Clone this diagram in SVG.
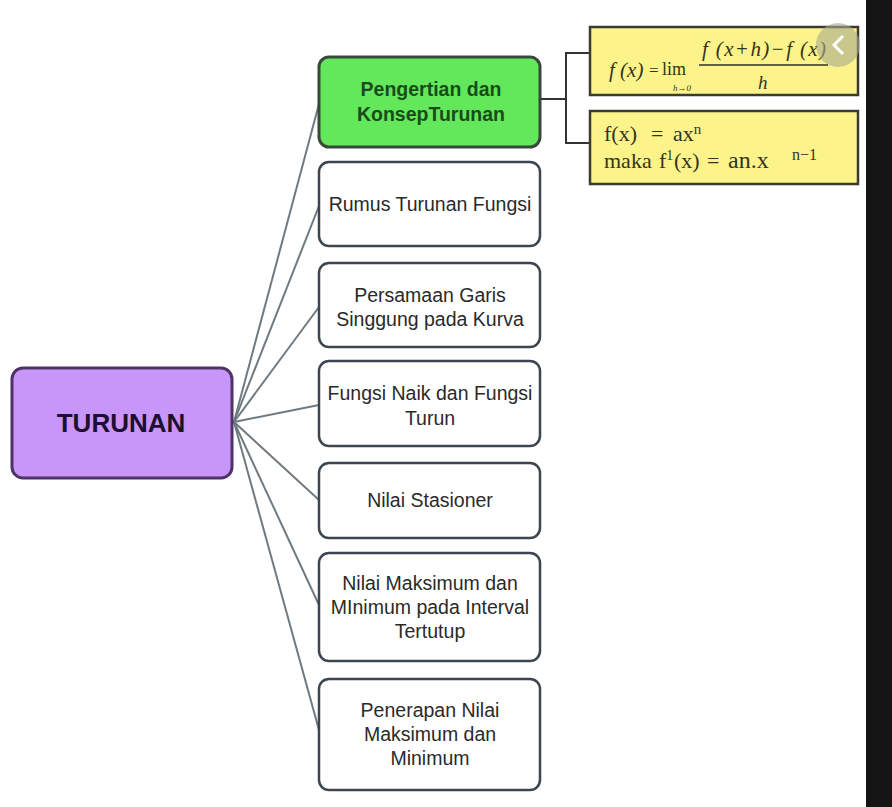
<svg xmlns="http://www.w3.org/2000/svg" width="892" height="807" viewBox="0 0 892 807">
<style>
.box{fill:#ffffff;stroke:#3c4650;stroke-width:2.5}
.t{font-family:"Liberation Sans",Arial,sans-serif;font-size:19.5px;fill:#2a2a2a;text-anchor:middle}
.g{font-family:"Liberation Sans",Arial,sans-serif;font-size:19.5px;font-weight:bold;fill:#1b4a1b;text-anchor:middle}
.conn{stroke:#6f7a80;stroke-width:2;fill:none}
.fbox{fill:#fcf48a;stroke:#3a3a30;stroke-width:2.5}
.f{font-family:"Liberation Serif","Times New Roman",serif;fill:#333322}
</style>
<rect x="0" y="0" width="892" height="807" fill="#ffffff"/>
<rect x="866" y="0" width="26" height="807" fill="#141414"/>
<g id="connectors">
<line class="conn" x1="234" y1="422" x2="319" y2="104"/>
<line class="conn" x1="234" y1="422" x2="319" y2="206"/>
<line class="conn" x1="234" y1="422" x2="319" y2="307"/>
<line class="conn" x1="234" y1="422" x2="319" y2="405"/>
<line class="conn" x1="234" y1="422" x2="319" y2="500"/>
<line class="conn" x1="234" y1="422" x2="319" y2="605"/>
<line class="conn" x1="234" y1="422" x2="319" y2="730"/>
<polyline points="540,99 566,99" stroke="#333" stroke-width="2" fill="none"/>
<polyline points="590,53 566,53 566,143 590,143" stroke="#333" stroke-width="2" fill="none"/>
</g>
<g id="turunan">
<rect x="12" y="368" width="220" height="110" rx="11" fill="#c896f8" stroke="#4e3366" stroke-width="3"/>
<text x="121" y="432" font-family="Liberation Sans,Arial,sans-serif" font-size="26" font-weight="bold" fill="#1c0f33" text-anchor="middle">TURUNAN</text>
</g>
<g id="pengertian">
<rect x="319" y="57" width="221" height="90" rx="10" fill="#62e85a" stroke="#38483a" stroke-width="3"/>
<text class="g" x="431" y="96">Pengertian dan</text>
<text class="g" x="431" y="121">KonsepTurunan</text>
</g>
<g id="rumus">
<rect class="box" x="319" y="162" width="221" height="84" rx="10"/>
<text class="t" x="430" y="211">Rumus Turunan Fungsi</text>
</g>
<g id="persamaan">
<rect class="box" x="319" y="263" width="221" height="84" rx="10"/>
<text class="t" x="430" y="302">Persamaan Garis</text>
<text class="t" x="430" y="326">Singgung pada Kurva</text>
</g>
<g id="fungsi">
<rect class="box" x="319" y="361" width="221" height="85" rx="10"/>
<text class="t" x="430" y="400">Fungsi Naik dan Fungsi</text>
<text class="t" x="430" y="425">Turun</text>
</g>
<g id="stasioner">
<rect class="box" x="319" y="463" width="221" height="75" rx="10"/>
<text class="t" x="430" y="507">Nilai Stasioner</text>
</g>
<g id="maksimum">
<rect class="box" x="319" y="553" width="221" height="108" rx="10"/>
<text class="t" x="430" y="590">Nilai Maksimum dan</text>
<text class="t" x="430" y="614">MInimum pada Interval</text>
<text class="t" x="430" y="638">Tertutup</text>
</g>
<g id="penerapan">
<rect class="box" x="319" y="679" width="221" height="111" rx="10"/>
<text class="t" x="430" y="717">Penerapan Nilai</text>
<text class="t" x="430" y="741">Maksimum dan</text>
<text class="t" x="430" y="765">Minimum</text>
</g>
<g id="formula1">
<rect class="fbox" x="590" y="27" width="268" height="68"/>
<text class="f" x="609" y="77" font-size="21" font-style="italic">f (x)</text>
<text class="f" x="649" y="76" font-size="17">=</text>
<text class="f" x="662" y="75" font-size="18">lim</text>
<text class="f" x="673" y="91" font-size="9" font-style="italic">h→0</text>
<text class="f" x="702" y="56" font-size="21" font-style="italic" textLength="124" lengthAdjust="spacing">f (x+h)−f (x)</text>
<line x1="699" y1="65" x2="828" y2="65" stroke="#333322" stroke-width="1.5"/>
<text class="f" x="758" y="89" font-size="19" font-style="italic">h</text>
</g>
<g id="formula2">
<rect class="fbox" x="590" y="111" width="268" height="73"/>
<text class="f" font-size="22" y="141"><tspan x="604">f(x)</tspan><tspan x="651">=</tspan><tspan x="673">ax</tspan><tspan font-size="15" dy="-7">n</tspan></text>
<text class="f" font-size="22" y="168"><tspan x="604">maka</tspan><tspan x="659">f</tspan><tspan font-size="14" dy="-8">1</tspan><tspan dy="8" x="674">(x)</tspan><tspan x="707">=</tspan><tspan x="728" font-size="24">an.x</tspan><tspan x="792" font-size="16" dy="-8">n−1</tspan></text>
</g>
<g id="button">
<circle cx="838" cy="45" r="22" fill="#a8a890" fill-opacity="0.6"/>
<polyline points="843,36 834,45 843,54" stroke="#ffffff" stroke-width="3" fill="none"/>
</g>
</svg>
